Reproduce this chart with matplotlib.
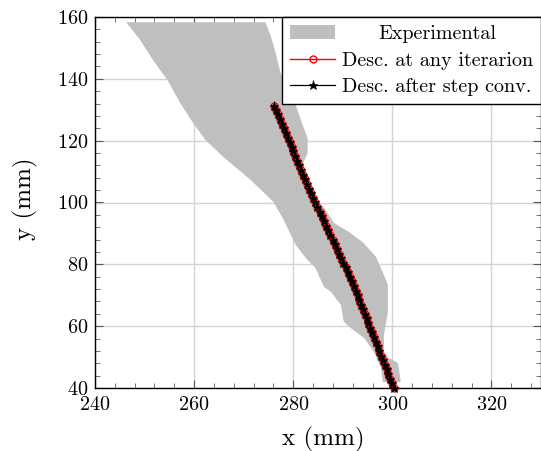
import matplotlib
matplotlib.use("Agg")
import matplotlib.pyplot as plt
import matplotlib.transforms as mtransforms
from matplotlib.ticker import MultipleLocator

plt.rcParams['font.family'] = ['cmr10', 'DejaVu Serif']
plt.rcParams['mathtext.fontset'] = 'cm'
plt.rcParams['axes.formatter.use_mathtext'] = True

# Experimental envelope (left boundary top->bottom, then right boundary bottom->top)
exp_x = [246.3, 249.1, 251.7, 254.6, 257.2, 259.8, 262.3, 265.9, 271.4, 276.0,
         278.1, 280.5, 282.5, 284.5, 286.2, 287.6, 289.6, 290.2, 291.6, 294.3,
         296.3, 297.7, 298.1,
         301.7, 301.3, 301.1, 299.3, 298.3, 298.3, 299.1, 299.1, 298.3, 296.7,
         294.0, 291.2, 288.2, 286.2, 283.9, 282.5, 281.9, 282.1, 282.9, 282.9,
         281.9, 280.5, 278.9, 277.4, 276.4, 275.4, 274.4]
exp_y = [158.3, 152.6, 146.1, 139.6, 132.2, 125.7, 120.2, 114.7, 107.3, 100.2,
         94.3, 86.3, 82.1, 78.8, 72.7, 71.1, 66.9, 61.4, 59.4, 56.2,
         51.6, 46.5, 41.9,
         41.9, 46.5, 48.1, 49.7, 51.6, 57.1, 64.6, 73.3, 76.6, 82.4,
         87.2, 90.5, 93.4, 98.5, 101.5, 104.7, 108.9, 113.1, 116.0, 120.9,
         125.1, 131.5, 135.7, 142.2, 148.7, 154.2, 158.3]

# Descent path (same for both series)
desc_y = [40.0, 41.5, 43.0, 44.5, 46.0, 47.5, 49.0, 50.5, 52.0, 53.5, 55.0,
          56.5, 58.0, 59.5, 61.0, 62.5, 64.0, 65.5, 67.0, 68.5, 70.0, 71.5,
          73.0, 74.5, 76.0, 77.5, 79.0, 80.5, 82.0, 83.5, 85.0, 86.5, 88.0,
          89.5, 91.0, 92.5, 94.0, 95.5, 97.0, 98.5, 100.0, 101.5, 103.0,
          104.5, 106.0, 107.5, 109.0, 110.5, 112.0, 113.5, 115.0, 116.5,
          118.0, 119.5, 121.0, 122.5, 124.0, 125.5, 127.0, 128.5, 130.0, 131.2]
desc_x = [300.30, 299.94, 299.57, 299.21, 298.84, 298.48, 298.11, 297.75,
          297.38, 297.02, 296.65, 296.29, 295.92, 295.56, 295.19, 294.83,
          294.46, 294.10, 293.73, 293.37, 293.00, 292.64, 292.27, 291.85,
          291.42, 290.98, 290.55, 290.11, 289.68, 289.24, 288.80, 288.37,
          287.93, 287.50, 287.06, 286.63, 286.19, 285.76, 285.32, 284.89,
          284.45, 284.02, 283.61, 283.21, 282.82, 282.42, 282.03, 281.63,
          281.24, 280.84, 280.45, 280.05, 279.66, 279.26, 278.87, 278.48,
          278.09, 277.69, 277.30, 276.91, 276.51, 276.20]

x_ticks = [240, 260, 280, 300, 320]
y_ticks = [40, 60, 80, 100, 120, 140, 160]

fig = plt.figure(figsize=(5.41, 4.51), dpi=100)
ax = fig.add_axes([95/541, 63/451, 446/541, 371/451])

ax.set_xlim(240, 330)
ax.set_ylim(40, 160)
ax.grid(True, which='major', color='#d3d3d3', linewidth=1.0, zorder=0)
ax.set_axisbelow(True)

ax.fill(exp_x, exp_y, color='#bfbfbf', linewidth=0, zorder=2, label='Experimental')
ax.plot(desc_x, desc_y, color='red', linewidth=1.0, marker='o', markersize=5,
        markerfacecolor='none', markeredgecolor='red', markeredgewidth=1.0,
        zorder=3, label='Desc. at any iterarion', clip_on=False)
ax.plot(desc_x, desc_y, color='black', linewidth=0.9, marker='*', markersize=6.5,
        markerfacecolor='black', markeredgecolor='black', markeredgewidth=0.5,
        zorder=4, label='Desc. after step conv.', clip_on=False)

ax.set_xticks(x_ticks)
ax.set_yticks(y_ticks)
ax.xaxis.set_minor_locator(MultipleLocator(4))
ax.yaxis.set_minor_locator(MultipleLocator(4))
ax.tick_params(which='both', direction='in', top=True, right=True,
               color='0.35', labelsize=14.5)
ax.tick_params(which='major', length=6, width=0.8)
ax.tick_params(which='minor', length=3.5, width=0.6)
ax.tick_params(axis='x', which='major', pad=6)
ax.tick_params(axis='y', which='major', pad=5)
for s in ax.spines.values():
    s.set_linewidth(1.0)
    s.set_color('black')

ax.set_xlabel('x (mm)', fontsize=18)
ax.xaxis.set_label_coords(0.512, -0.106)
ax.set_ylabel('y (mm)', fontsize=18)
ax.yaxis.set_label_coords(-0.128, 0.51)

leg = ax.legend(loc='upper right', bbox_to_anchor=(1.0, 1.0), borderaxespad=0,
                fontsize=14.5, frameon=True, fancybox=False, edgecolor='black',
                framealpha=1, handlelength=2.2, handletextpad=0.35,
                borderpad=0.4, labelspacing=0.42)
leg.get_frame().set_linewidth(1.0)
texts = leg.get_texts()
texts[0].set_transform(texts[0].get_transform() +
                       mtransforms.ScaledTranslation(0.37, 0, fig.dpi_scale_trans))

fig.savefig('out.png', dpi=100)
